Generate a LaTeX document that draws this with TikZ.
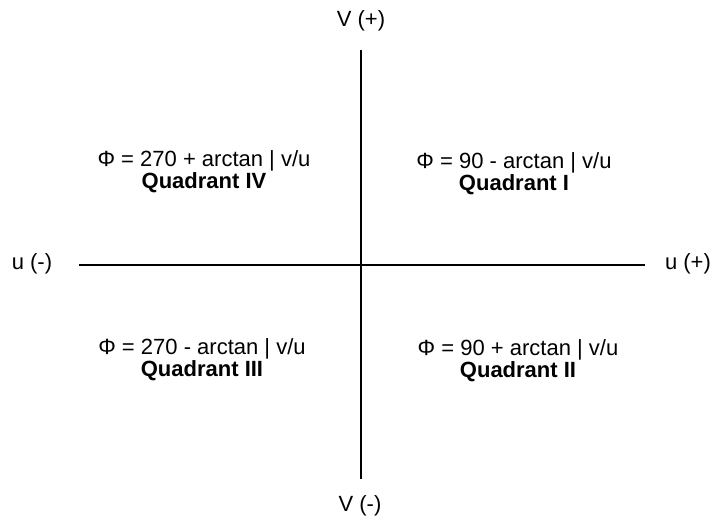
\documentclass[tikz,border=0pt]{standalone}
\usepackage{fontspec}
\setmainfont{Liberation Sans}
\usetikzlibrary{positioning}

\begin{document}
\begin{tikzpicture}[x=1pt, y=-1pt,
    axis/.style={draw, line width=1.4pt},
    endlabel/.style={font=\fontsize{22}{22}\selectfont, inner sep=0pt},
    quad/.style={font=\fontsize{22}{22}\selectfont, align=center, inner sep=0pt},
]
\useasboundingbox (0,0) rectangle (712,522);
% axes
\coordinate (vtop) at (361,50);
\coordinate (vbot) at (361,479);
\coordinate (uleft) at (79,265);
\coordinate (uright) at (645,265);
\draw[axis] (vtop) -- (vbot);
\draw[axis] (uleft) -- (uright);
% axis labels
\node[endlabel] (vplus) at (361,21) {V (+)};
\node[endlabel] (vminus) at (360,506) {V (-)};
\node[endlabel] (uminus) at (32,264) {u (-)};
\node[endlabel] (uplus) at (688,264) {u (+)};
% quadrants
\node[quad] (quadIV) at (204,172) {Φ = 270 + arctan | v/u\\\textbf{Quadrant IV}};
\node[quad] (quadI) at (514,174) {Φ = 90 - arctan | v/u\\\textbf{Quadrant I}};
\node[quad] (quadIII) at (202,360) {Φ = 270 - arctan | v/u\\\textbf{Quadrant III}};
\node[quad] (quadII) at (518,361) {Φ = 90 + arctan | v/u\\\textbf{Quadrant II}};
\end{tikzpicture}
\end{document}
